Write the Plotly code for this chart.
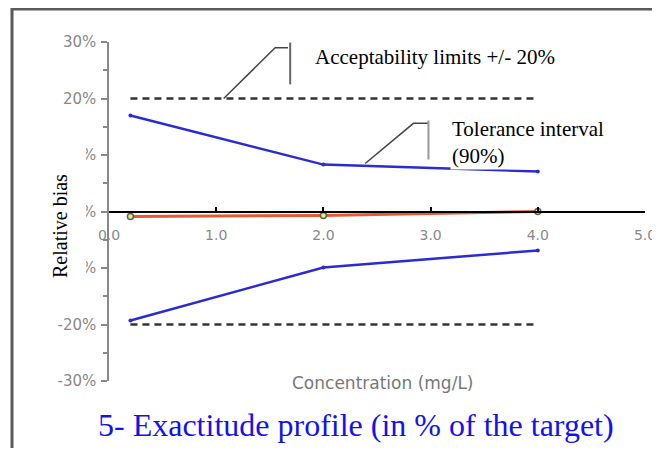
import plotly.graph_objects as go

# ---- data ----
concentration = [0.2, 2.0, 4.0]
mean_bias = [-0.9, -0.7, 0.0]
tol_upper = [17.0, 8.3, 7.1]
tol_lower = [-19.3, -9.9, -6.9]
acc_upper = [20, 20, 20]
acc_lower = [-20, -20, -20]
y_ticks = [-30, -20, -10, 0, 10, 20, 30]
y_ticktext = ["-30%", "-20%", "-10%", "0%", "10%", "20%", "30%"]
x_ticks = [0, 1, 2, 3, 4, 5]
x_ticktext = ["0.0", "1.0", "2.0", "3.0", "4.0", "5.0"]

# page body has an 8px margin, so the figure is sized to fit the window from there
OFF = 8
W, H = 660 - OFF, 440
L, R, T = 109 - OFF, 15, 42 - OFF
B = H - (381 - OFF)
PW, PH = W - L - R, H - T - B


def px_x(p):
    return (p - OFF - L) / PW


def px_y(p):
    return (H - B - (p - OFF)) / PH


fig = go.Figure()

# acceptability limits
for arr in (acc_upper, acc_lower):
    fig.add_trace(go.Scatter(x=concentration, y=arr, mode="lines",
                             line=dict(color="#333333", width=2.5, dash="7px,5px"),
                             hoverinfo="skip", showlegend=False))
# tolerance interval
for arr in (tol_upper, tol_lower):
    fig.add_trace(go.Scatter(x=concentration, y=arr, mode="lines+markers",
                             line=dict(color="#2b2bd0", width=2.5),
                             marker=dict(size=4, color="#2b2bd0"),
                             hoverinfo="skip", showlegend=False))
# mean bias
fig.add_trace(go.Scatter(x=concentration, y=mean_bias, mode="lines+markers",
                         line=dict(color="#e55a35", width=3),
                         marker=dict(size=6, color="#e8e2b0",
                                     line=dict(color="#5a6a2a", width=1.5)),
                         hoverinfo="skip", showlegend=False))

shapes = []
# outer frame: only top and left edges are visible in the picture
fx0, fx1 = px_x(12), px_x(700)
fy0, fy1 = px_y(500), px_y(9)
shapes.append(dict(type="path", xref="paper", yref="paper",
                   path=f"M {fx0} {fy0} L {fx0} {fy1} L {fx1} {fy1}",
                   line=dict(color="#5a5a5a", width=3), layer="above"))
# white box behind y title
shapes.append(dict(type="rect", xref="paper", yref="paper",
                   x0=px_x(44), x1=px_x(86), y0=px_y(282), y1=px_y(146),
                   fillcolor="white", line=dict(width=0), layer="above"))
# callout lines (acceptability)
shapes.append(dict(type="path", xref="x", yref="y",
                   path="M 1.07 20 L 1.55 29.0 L 1.67 29.0",
                   line=dict(color="#444444", width=1.5), layer="above"))
shapes.append(dict(type="line", xref="x", yref="y", x0=1.69, x1=1.69, y0=22.5, y1=29.9,
                   line=dict(color="#666666", width=2), layer="above"))
# callout lines (tolerance)
shapes.append(dict(type="path", xref="x", yref="y",
                   path="M 2.39 8.5 L 2.84 15.6 L 2.98 15.6",
                   line=dict(color="#444444", width=1.5), layer="above"))
shapes.append(dict(type="line", xref="x", yref="y", x0=2.98, x1=2.98, y0=9.2, y1=16.1,
                   line=dict(color="#999999", width=2), layer="above"))

serif = "Liberation Serif, Times New Roman, serif"
sans = "DejaVu Sans, Verdana, sans-serif"
annotations = [
    dict(text="Acceptability limits +/- 20%", xref="paper", yref="paper",
         x=px_x(313), y=px_y(57), xanchor="left", yanchor="middle", showarrow=False,
         font=dict(family=serif, size=21, color="black")),
    dict(text="Tolerance interval<br>(90%)", xref="paper", yref="paper",
         x=px_x(450), y=px_y(115), xanchor="left", yanchor="top", showarrow=False,
         align="left", bgcolor="white",
         font=dict(family=serif, size=21, color="black")),
    dict(text="Relative bias", xref="paper", yref="paper",
         x=px_x(60), y=px_y(226), xanchor="center", yanchor="middle", textangle=-90,
         showarrow=False, font=dict(family=serif, size=20, color="black")),
    dict(text="Concentration (mg/L)", xref="paper", yref="paper",
         x=px_x(382), y=px_y(383), xanchor="center", yanchor="middle", showarrow=False,
         font=dict(family=sans, size=17, color="#777777")),
    dict(text="5- Exactitude profile (in % of the target)", xref="paper", yref="paper",
         x=px_x(356), y=px_y(425), xanchor="center", yanchor="middle", showarrow=False,
         font=dict(family=serif, size=32, color="#1212f0")),
]

fig.update_layout(
    width=W, height=H,
    margin=dict(l=L, r=R, t=T, b=B, pad=0, autoexpand=False),
    paper_bgcolor="white", plot_bgcolor="white",
    showlegend=False,
    shapes=shapes, annotations=annotations,
    xaxis=dict(range=[0, 5], tickvals=x_ticks, ticktext=x_ticktext,
               anchor="free", position=0.5,
               showline=True, linecolor="black", linewidth=1.5,
               ticks="inside", ticklen=4, tickcolor="black", tickwidth=1.5,
               showgrid=False, zeroline=False, ticklabelstandoff=11,
               tickfont=dict(family=sans, size=14, color="#888888")),
    yaxis=dict(range=[-30, 30], tickvals=y_ticks, ticktext=y_ticktext,
               showline=True, linecolor="#888888", linewidth=1.5,
               ticks="outside", ticklen=6, tickcolor="#888888", tickwidth=1.5,
               minor=dict(tickvals=[-25, -15, -5, 5, 15, 25], ticks="outside", ticklen=4,
                          tickcolor="#888888", tickwidth=1.5),
               showgrid=False, zeroline=False, ticklabelstandoff=2,
               tickfont=dict(family=sans, size=15, color="#888888")),
)

fig.write_html("out.html")
